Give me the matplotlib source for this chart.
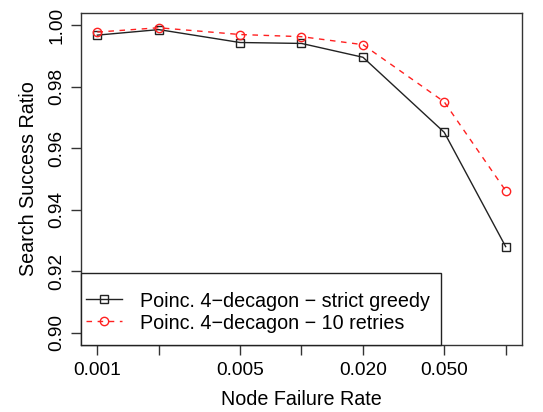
import matplotlib
matplotlib.use("Agg")
import matplotlib.pyplot as plt
from matplotlib.patches import Rectangle
import numpy as np

plt.rcParams['font.family'] = ['Liberation Sans', 'DejaVu Sans']

failure_rate = [0.001, 0.002, 0.005, 0.01, 0.02, 0.05, 0.1]
strict_greedy = [0.9968, 0.9986, 0.9944, 0.9941, 0.9896, 0.9652, 0.9280]
retries10 = [0.9978, 0.9992, 0.9970, 0.9963, 0.9937, 0.9751, 0.9462]
xtick_vals = [0.001, 0.002, 0.005, 0.01, 0.02, 0.05, 0.1]
xtick_labels = ["0.001", "", "0.005", "", "0.020", "0.050", ""]
ytick_vals = [0.90, 0.92, 0.94, 0.96, 0.98, 1.00]
ytick_labels = ["0.90", "0.92", "0.94", "0.96", "0.98", "1.00"]
label_strict = "Poinc. 4\u2212decagon \u2212 strict greedy"
label_retry = "Poinc. 4\u2212decagon \u2212 10 retries"

FS = 14.2
FS_TICK = 13.8
W, H = 543, 412
fig = plt.figure(figsize=(W/100, H/100), dpi=100)
ax_l, ax_r, ax_t, ax_b = 81, 522, 13, 345
ax = fig.add_axes([ax_l/W, 1-ax_b/H, (ax_r-ax_l)/W, (ax_b-ax_t)/H])

black = '#222222'
red = '#ff2020'
ax.plot(failure_rate, strict_greedy, color=black, lw=1, marker='s', ms=5.5,
        mfc='none', mec=black, mew=1, label=label_strict)
ax.plot(failure_rate, retries10, color=red, lw=1, ls=(0, (4, 4)), marker='o', ms=6,
        mfc='none', mec=red, mew=1, label=label_retry)

ax.set_xscale('log')
lx0, lx1 = np.log10(0.001), np.log10(0.1)
pad = 0.04 * (lx1 - lx0)
ax.set_xlim(10**(lx0 - pad), 10**(lx1 + pad))
ax.set_ylim(0.896, 1.004)
ax.set_xticks(xtick_vals)
ax.set_xticklabels(xtick_labels)
ax.xaxis.set_minor_locator(matplotlib.ticker.NullLocator())
ax.set_yticks(ytick_vals)
ax.set_yticklabels(ytick_labels, rotation=90, va='center')
ax.tick_params(direction='out', length=7, width=1, labelsize=FS_TICK, color='#333333')
ax.tick_params(axis='x', pad=5)
ax.tick_params(axis='y', pad=4)
for s in ax.spines.values():
    s.set_color('#333333')
    s.set_linewidth(1)

ax.set_xlabel("Node Failure Rate", fontsize=FS, labelpad=8)
ax.set_ylabel("Search Success Ratio", fontsize=FS, labelpad=8)

# legend box (R-style, bottom-left)
box_w = (441 - ax_l) / (ax_r - ax_l)
box_h = (ax_b - 273) / (ax_b - ax_t)
ax.add_patch(Rectangle((0, 0), box_w, box_h, transform=ax.transAxes, fill=True,
                       facecolor='white', edgecolor=black, lw=1, zorder=5, clip_on=False))
leg = ax.legend(loc='center left', bbox_to_anchor=(0, -0.01, box_w, box_h), borderaxespad=0,
                frameon=False, fontsize=FS, handlelength=1.85, handletextpad=0.9,
                borderpad=0.25, labelspacing=0.12, handleheight=1.0)
leg.set_zorder(6)

fig.savefig("out.png", dpi=100)
